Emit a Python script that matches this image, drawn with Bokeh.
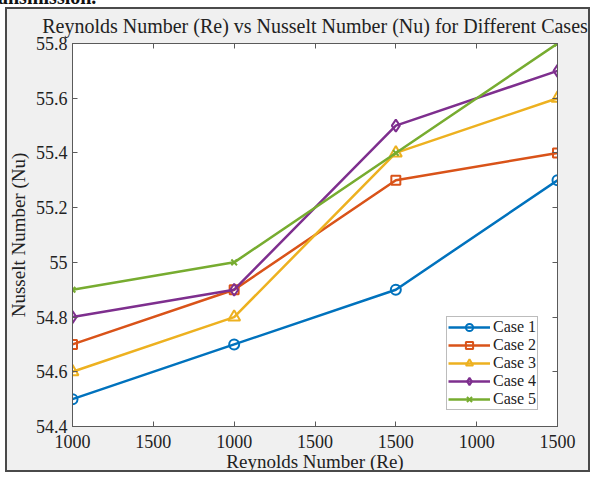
from bokeh.plotting import figure
from bokeh.models import LinearAxis, FixedTicker, NumeralTickFormatter, Legend, LegendItem, Range1d
from bokeh.embed import file_html
from bokeh.resources import INLINE

# ---- data ----
x_pos = [1, 2, 3, 4]
tick_pos = [1, 1.5, 2, 2.5, 3, 3.5, 4]
tick_labels = ["1000", "1500", "1000", "1500", "1500", "1000", "1500"]
case_names = ["Case 1", "Case 2", "Case 3", "Case 4", "Case 5"]
case1 = [54.5, 54.7, 54.9, 55.3]
case2 = [54.7, 54.9, 55.3, 55.4]
case3 = [54.6, 54.8, 55.4, 55.6]
case4 = [54.8, 54.9, 55.5, 55.7]
case5 = [54.9, 55.0, 55.4, 55.8]
y_ticks = [54.4, 54.6, 54.8, 55.0, 55.2, 55.4, 55.6, 55.8]

colors = ["#0072BD", "#D95319", "#EDB120", "#7E2F8E", "#77AC30"]
markers = ["circle", "square", "triangle", "diamond", "x"]
msizes = [10, 9, 12, 12, 8]
FONT = "Liberation Serif"
AX = "#5a5a5a"

p = figure(width=592, height=477, output_backend="svg", toolbar_location=None,
           x_range=Range1d(1, 4), y_range=Range1d(54.4, 55.8),
           min_border_left=72, min_border_right=35, min_border_top=43, min_border_bottom=51,
           background_fill_color="white", border_fill_color="#F0F0F0")
p.outline_line_color = AX
p.grid.visible = False

p.title.text = "Reynolds Number (Re) vs Nusselt Number (Nu) for Different Cases"
p.title.align = "center"
p.title.vertical_align = "top"
p.title.text_font = FONT
p.title.text_font_size = "20px"
p.title.text_font_style = "normal"
p.title.text_color = "#222222"
p.title.standoff = 10

def style_axis(ax, labels=True):
    ax.axis_line_color = AX
    ax.major_tick_line_color = AX
    ax.minor_tick_line_color = None
    ax.major_tick_in = 5
    ax.major_tick_out = 0
    ax.major_label_text_font = FONT
    ax.major_label_text_font_size = "18px"
    ax.major_label_text_color = "#222222"
    ax.axis_label_text_font = FONT
    ax.axis_label_text_font_size = "19px"
    ax.axis_label_text_font_style = "normal"
    ax.axis_label_text_color = "#222222"
    if not labels:
        ax.major_label_text_font_size = "1px"
        ax.major_label_text_color = None
        ax.major_label_standoff = 0

xt = FixedTicker(ticks=tick_pos)
yt = FixedTicker(ticks=y_ticks)

xa = p.xaxis[0]
xa.ticker = xt
xa.major_label_overrides = {t: l for t, l in zip(tick_pos, tick_labels)}
xa.axis_label = "Reynolds Number (Re)"
xa.major_label_standoff = 8
xa.axis_label_standoff = 0
style_axis(xa)

ya = p.yaxis[0]
ya.ticker = yt
ya.formatter = NumeralTickFormatter(format="0.[0]")
ya.axis_label = "Nusselt Number (Nu)"
ya.major_label_standoff = 5
ya.axis_label_standoff = 4
style_axis(ya)

top = LinearAxis(ticker=xt)
style_axis(top, labels=False)
p.add_layout(top, "above")
right = LinearAxis(ticker=yt)
style_axis(right, labels=False)
p.add_layout(right, "right")

series = [case1, case2, case3, case4, case5]
items = []
for name, ys, c, m, s in zip(case_names, series, colors, markers, msizes):
    ln = p.line(x_pos, ys, line_color=c, line_width=2.5)
    sc = p.scatter(x_pos, ys, marker=m, size=s, line_color=c, line_width=2,
                   fill_color=None)
    items.append(LegendItem(label=name, renderers=[ln, sc]))

legend = Legend(items=items, location=(374, 16))
legend.label_text_font = FONT
legend.label_text_font_size = "16px"
legend.label_text_color = "#222222"
legend.glyph_width = 42
legend.glyph_height = 18
legend.label_height = 18
legend.label_standoff = 3
legend.spacing = 0
legend.padding = 1
legend.margin = 0
legend.border_line_color = "#7a7a7a"
legend.border_line_width = 1.5
legend.background_fill_color = "white"
legend.background_fill_alpha = 1
p.add_layout(legend, "center")

css = """
:host { position: relative; }
:host::after {
  content: ""; position: absolute; left: 5px; top: 7px; width: 585px; height: 465px;
  box-sizing: border-box; border: 2px solid #4a4a4a; box-shadow: 0 0 0 14px #ffffff;
  pointer-events: none; z-index: 10;
}
:host::before {
  content: "ansmission."; position: absolute; left: -2px; top: -13px;
  font-family: 'Liberation Serif'; font-weight: bold; font-size: 20px; line-height: 20px;
  color: #111111; white-space: nowrap; pointer-events: none; z-index: 11;
}
"""
p.stylesheets = [css]

open("out.html", "w").write(file_html(p, INLINE))
